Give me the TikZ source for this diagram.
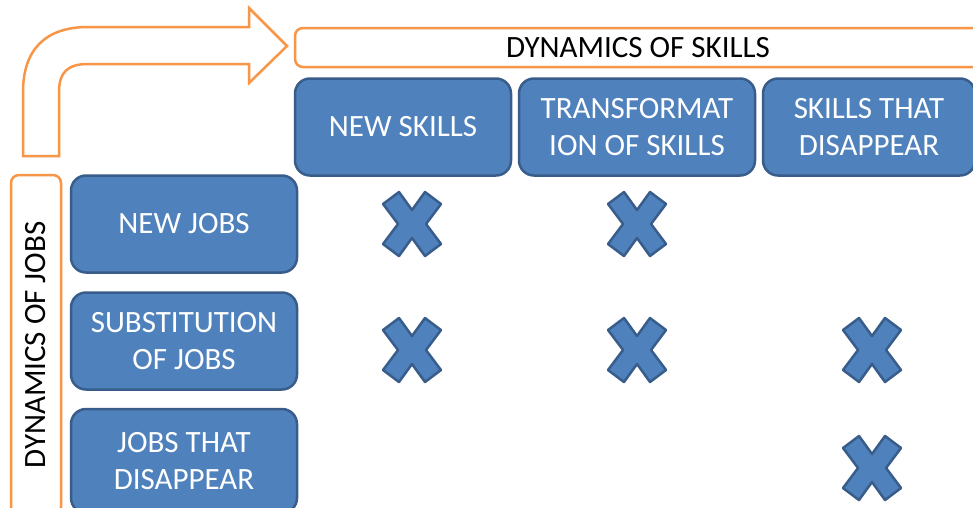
\documentclass[tikz,border=0pt]{standalone}
\usepackage{fontspec}
\setmainfont{Carlito}
\definecolor{boxblue}{HTML}{4F81BD}
\definecolor{boxedge}{HTML}{385D8A}
\definecolor{barorange}{HTML}{F79646}
\tikzset{
  cell/.style={draw=boxedge, line width=2.5pt, fill=boxblue, rounded corners=15pt,
    text=white, align=center, font=\fontsize{31}{37}\selectfont, inner sep=0pt},
  skillcell/.style={cell, minimum width=216pt, minimum height=97pt},
  jobcell/.style={cell, minimum width=226pt, minimum height=97pt},
  bar/.style={draw=barorange, line width=2.5pt, rounded corners=8pt, fill=white,
    font=\fontsize{31}{36}\selectfont},
  xmark/.pic={
    \draw[boxedge, fill=boxblue, line width=2.5pt, line join=round]
      (-29,-20) -- (-13,-32) -- (0,-14) -- (13,-32) -- (29,-20) -- (14,0)
      -- (29,20) -- (13,32) -- (0,14) -- (-13,32) -- (-29,20) -- (-14,0) -- cycle;
  }
}
\begin{document}
\begin{tikzpicture}[x=1pt, y=-1pt]
\clip (0,0) rectangle (973,507);
\fill[white] (0,0) rectangle (973,507);
% bent arrow
\draw[barorange, line width=2.5pt, line join=miter]
  (23,156) -- (23,92) .. controls (23,50) and (45,27) .. (88,27) -- (249,27)
  -- (249,8) -- (287,46) -- (249,83) -- (249,64) -- (88,64)
  .. controls (68,64) and (59,72) .. (59,92) -- (59,156) -- cycle;
% headers
\node[bar, minimum width=686pt, minimum height=39pt] (skills) at (638,47.5) {DYNAMICS OF SKILLS};
\node[bar, minimum width=50pt, minimum height=340pt] (jobs) at (36,345) {};
\node[rotate=90, font=\fontsize{31}{36}\selectfont] (jobslabel) at (jobs.center) {DYNAMICS OF JOBS};
% skill columns
\node[skillcell] (newskills) at (403,127) {NEW SKILLS};
\node[skillcell, minimum width=236pt] (transf) at (637,127) {TRANSFORMAT\\ION OF SKILLS};
\node[skillcell, minimum width=212pt] (lostskills) at (869,127) {SKILLS THAT\\DISAPPEAR};
% job rows
\node[jobcell] (newjobs) at (184,224) {NEW JOBS};
\node[jobcell] (subst) at (184,341) {SUBSTITUTION\\OF JOBS};
\node[jobcell, minimum height=104pt] (lostjobs) at (184,461) {JOBS THAT\\DISAPPEAR};
% crosses
\pic at (412,224) {xmark};
\pic at (637,224) {xmark};
\pic at (412,350) {xmark};
\pic at (637,350) {xmark};
\pic at (872,350) {xmark};
\pic at (872,468) {xmark};
\end{tikzpicture}
\end{document}
